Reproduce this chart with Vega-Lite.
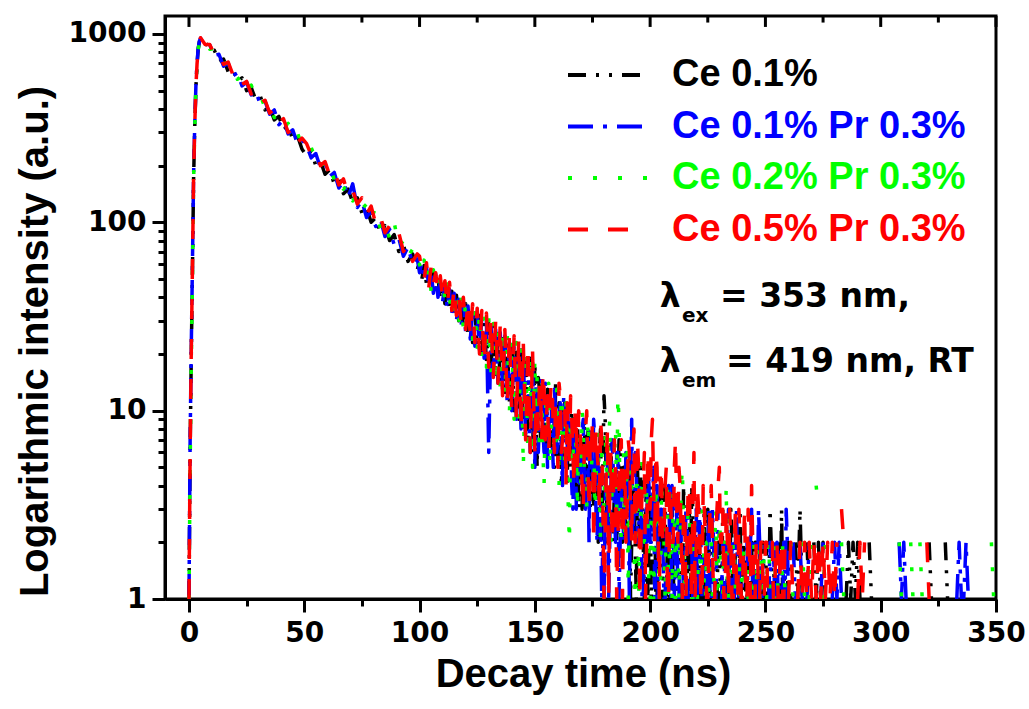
{
"$schema": "https://vega.github.io/schema/vega-lite/v6.json",
"background": "white",
"autosize": {"type": "none"},
"padding": {"left": 165, "top": 16, "right": 33, "bottom": 110},
"width": 831,
"height": 583,
"config": {
 "view": {"stroke": "black", "strokeWidth": 3},
 "axis": {"domainColor": "black", "domainWidth": 3, "tickColor": "black", "tickWidth": 3, "labelColor": "black", "titleColor": "black", "grid": false, "labelFont": "DejaVu Sans", "labelFontWeight": "bold", "labelFontSize": 28, "titleFont": "Liberation Sans", "titleFontWeight": "bold", "titleFontSize": 40}
},
"resolve": {"axis": {"x": "independent", "y": "independent"}},
"layer": [
{
 "data": {"values": [
{"t":0,"a":1,"b":1,"c":1,"d":1},
{"t":0.5,"a":6,"b":7,"c":5,"d":6},
{"t":1,"a":20,"b":22,"c":18,"d":21},
{"t":1.5,"a":55,"b":60,"c":50,"d":58},
{"t":2,"a":170,"b":180,"c":165,"d":175},
{"t":2.5,"a":320,"b":330,"c":310,"d":325},
{"t":3,"a":520,"b":530,"c":510,"d":525},
{"t":3.5,"a":690,"b":700,"c":680,"d":695},
{"t":4,"a":830,"b":840,"c":825,"d":835},
{"t":4.5,"a":910,"b":915,"c":905,"d":920},
{"t":5,"a":940,"b":950,"c":945,"d":955},
{"t":7,"a":920,"b":870,"c":925,"d":880},
{"t":9,"a":810,"b":875,"c":830,"d":880},
{"t":11,"a":820,"b":770,"c":835,"d":775},
{"t":13,"a":715,"b":780,"c":735,"d":790},
{"t":15,"a":735,"b":675,"c":745,"d":690},
{"t":17,"a":630,"b":700,"c":650,"d":710},
{"t":19,"a":655,"b":600,"c":665,"d":610},
{"t":21,"a":560,"b":620,"c":575,"d":630},
{"t":23,"a":585,"b":530,"c":595,"d":540},
{"t":25,"a":500,"b":555,"c":510,"d":560},
{"t":27,"a":520,"b":475,"c":535,"d":480},
{"t":29,"a":445,"b":495,"c":455,"d":500},
{"t":31,"a":465,"b":420,"c":470,"d":430},
{"t":33,"a":395,"b":440,"c":405,"d":445},
{"t":35,"a":410,"b":375,"c":420,"d":380},
{"t":37,"a":350,"b":395,"c":360,"d":400},
{"t":39,"a":365,"b":330,"c":375,"d":340},
{"t":41,"a":310,"b":350,"c":320,"d":355},
{"t":43,"a":325,"b":295,"c":335,"d":300},
{"t":45,"a":275,"b":310,"c":285,"d":315},
{"t":47,"a":290,"b":262,"c":300,"d":265},
{"t":49,"a":245,"b":275,"c":255,"d":280},
{"t":51,"a":225,"b":255,"c":240,"d":262},
{"t":53,"a":240,"b":220,"c":250,"d":228},
{"t":55,"a":200,"b":232,"c":215,"d":236},
{"t":57,"a":212,"b":195,"c":225,"d":200},
{"t":59,"a":180,"b":205,"c":190,"d":210},
{"t":61,"a":190,"b":175,"c":200,"d":178},
{"t":63,"a":160,"b":184,"c":168,"d":190},
{"t":65,"a":170,"b":152,"c":178,"d":158},
{"t":67,"a":142,"b":165,"c":150,"d":170},
{"t":69,"a":150,"b":136,"c":160,"d":140},
{"t":71,"a":128,"b":160,"c":130,"d":148},
{"t":73,"a":135,"b":120,"c":140,"d":125},
{"t":75,"a":112,"b":130,"c":118,"d":135},
{"t":77,"a":120,"b":106,"c":125,"d":110},
{"t":79,"a":100,"b":116,"c":104,"d":122},
{"t":81,"a":106,"b":95,"c":120,"d":98},
{"t":83,"a":88,"b":104,"c":92,"d":108},
{"t":85,"a":96,"b":84,"c":100,"d":88},
{"t":87,"a":80,"b":92,"c":82,"d":96},
{"t":89,"a":86,"b":76,"c":100,"d":84},
{"t":91,"a":70,"b":82,"c":74,"d":88},
{"t":93,"a":76,"b":66,"c":80,"d":70},
{"t":95,"a":62,"b":74,"c":66,"d":76},
{"t":97,"a":68,"b":60,"c":72,"d":62},
{"t":99,"a":56,"b":64,"c":58,"d":68},
{"t":100,"a":62,"b":54,"c":60,"d":66},
{"t":101,"a":50,"b":61,"c":53,"d":56},
{"t":102,"a":59,"b":49,"c":63,"d":50},
{"t":103,"a":47,"b":58,"c":50,"d":61},
{"t":104,"a":55,"b":46,"c":57,"d":45},
{"t":105,"a":48,"b":55,"c":43,"d":58},
{"t":106,"a":54,"b":42,"c":56,"d":47},
{"t":107,"a":41,"b":53,"c":46,"d":54},
{"t":108,"a":51,"b":40,"c":50,"d":43},
{"t":109,"a":39,"b":49,"c":41,"d":52},
{"t":110,"a":48,"b":38,"c":51,"d":39},
{"t":111,"a":37,"b":47,"c":38,"d":49},
{"t":112,"a":46,"b":35,"c":47,"d":36},
{"t":113,"a":34,"b":44,"c":36,"d":48},
{"t":114,"a":43,"b":33,"c":44,"d":34},
{"t":115,"a":32,"b":42,"c":31,"d":45},
{"t":116,"a":41,"b":30,"c":42,"d":32},
{"t":117,"a":30,"b":39,"c":29,"d":41},
{"t":118,"a":38,"b":28,"c":40,"d":29},
{"t":119,"a":28,"b":38,"c":27,"d":40},
{"t":120,"a":37,"b":26,"c":38,"d":27},
{"t":121,"a":25,"b":36,"c":26,"d":38},
{"t":122,"a":35,"b":24,"c":36,"d":25},
{"t":123,"a":23,"b":34,"c":24,"d":37},
{"t":124,"a":33,"b":22,"c":35,"d":23},
{"t":125,"a":22,"b":33,"c":21,"d":35},
{"t":126,"a":32,"b":21,"c":33,"d":20},
{"t":127,"a":20,"b":31,"c":19,"d":34},
{"t":128,"a":31,"b":19,"c":32,"d":18},
{"t":129,"a":18,"b":30,"c":17,"d":33},
{"t":130,"a":29,"b":6,"c":31,"d":17},
{"t":131,"a":17,"b":28,"c":16,"d":31},
{"t":132,"a":28,"b":16,"c":29,"d":15},
{"t":133,"a":15,"b":27,"c":14,"d":30},
{"t":134,"a":27,"b":14,"c":28,"d":14},
{"t":135,"a":14,"b":26,"c":13,"d":29},
{"t":136,"a":25,"b":13,"c":27,"d":12},
{"t":137,"a":12,"b":25,"c":12,"d":27},
{"t":138,"a":24,"b":11,"c":26,"d":11},
{"t":139,"a":11,"b":23,"c":10,"d":26},
{"t":140,"a":23,"b":10,"c":24,"d":10},
{"t":141,"a":10,"b":22,"c":9,"d":25},
{"t":142,"a":22,"b":9,"c":23,"d":9},
{"t":143,"a":9,"b":21,"c":8,"d":24},
{"t":144,"a":21,"b":8,"c":22,"d":8},
{"t":145,"a":8,"b":20,"c":5,"d":23},
{"t":146,"a":20,"b":7,"c":21,"d":7},
{"t":147,"a":7,"b":19,"c":6,"d":22},
{"t":148,"a":19,"b":6,"c":20,"d":6},
{"t":149,"a":6,"b":18,"c":5,"d":21},
{"t":150,"a":18,"b":5,"c":19,"d":6},
{"t":150.5,"a":9,"b":14,"c":7,"d":11},
{"t":151,"a":5,"b":12,"c":16,"d":10},
{"t":151.5,"a":15,"b":6,"c":12,"d":8},
{"t":152,"a":13,"b":9,"c":6,"d":14},
{"t":152.5,"a":7,"b":11,"c":15,"d":12},
{"t":153,"a":8,"b":15,"c":12,"d":7},
{"t":153.5,"a":12,"b":8,"c":6,"d":16},
{"t":154,"a":12,"b":6,"c":4,"d":13},
{"t":154.5,"a":6,"b":14,"c":10,"d":7},
{"t":155,"a":7,"b":13,"c":11,"d":9},
{"t":155.5,"a":13,"b":5,"c":8,"d":12},
{"t":156,"a":11,"b":8,"c":14,"d":6},
{"t":156.5,"a":8,"b":11,"c":5,"d":9},
{"t":157,"a":6,"b":12,"c":7,"d":14},
{"t":157.5,"a":12,"b":7,"c":11,"d":13},
{"t":158,"a":10,"b":5,"c":12,"d":8},
{"t":158.5,"a":5,"b":13,"c":9,"d":6},
{"t":159,"a":14,"b":10,"c":6,"d":11},
{"t":159.5,"a":9,"b":6,"c":13,"d":10},
{"t":160,"a":5,"b":7,"c":11,"d":5},
{"t":160.5,"a":11,"b":9,"c":4,"d":14},
{"t":161,"a":9,"b":11,"c":8,"d":12},
{"t":161.5,"a":4,"b":6,"c":12,"d":6},
{"t":162,"a":6,"b":4,"c":10,"d":7},
{"t":162.5,"a":10,"b":12,"c":7,"d":9},
{"t":163,"a":11,"b":9,"c":5,"d":10},
{"t":163.5,"a":7,"b":5,"c":11,"d":4},
{"t":164,"a":4,"b":6,"c":9,"d":11},
{"t":164.5,"a":9,"b":11,"c":3,"d":8},
{"t":165,"a":8,"b":10,"c":2,"d":5},
{"t":165.5,"a":5,"b":7,"c":9,"d":12},
{"t":166,"a":10,"b":4,"c":7,"d":9},
{"t":166.5,"a":8,"b":3,"c":5,"d":6},
{"t":167,"a":5,"b":8,"c":10,"d":4},
{"t":167.5,"a":4,"b":9,"c":8,"d":10},
{"t":168,"a":9,"b":3,"c":6,"d":8},
{"t":168.5,"a":10,"b":6,"c":3,"d":5},
{"t":169,"a":3,"b":7,"c":9,"d":10},
{"t":169.5,"a":6,"b":4,"c":7,"d":9},
{"t":170,"a":7,"b":5,"c":4,"d":6},
{"t":170.5,"a":3,"b":8,"c":10,"d":4},
{"t":171,"a":6,"b":9,"c":8,"d":3},
{"t":171.5,"a":9,"b":4,"c":5,"d":7},
{"t":172,"a":4,"b":3,"c":5,"d":8},
{"t":172.5,"a":5,"b":7,"c":3,"d":10},
{"t":173,"a":8,"b":6,"c":9,"d":5},
{"t":173.5,"a":4,"b":2,"c":7,"d":3},
{"t":174,"a":3,"b":8,"c":4,"d":7},
{"t":174.5,"a":8,"b":6,"c":5,"d":6},
{"t":175,"a":7,"b":4,"c":6,"d":9},
{"t":175.5,"a":3,"b":9,"c":8,"d":2},
{"t":176,"a":5,"b":7,"c":3,"d":4},
{"t":176.5,"a":6,"b":3,"c":4,"d":8},
{"t":177,"a":4,"b":2,"c":8,"d":6},
{"t":177.5,"a":2,"b":6,"c":7,"d":5},
{"t":178,"a":6,"b":5,"c":4,"d":3},
{"t":178.5,"a":8,"b":3,"c":2,"d":9},
{"t":179,"a":2,"b":1,"c":6,"d":7},
{"t":179.5,"a":5,"b":2,"c":4,"d":3},
{"t":180,"a":12,"b":1,"c":3,"d":1},
{"t":180.5,"a":9,"b":3,"c":8,"d":2},
{"t":181,"a":4,"b":6,"c":5,"d":5},
{"t":181.5,"a":2,"b":5,"c":3,"d":8},
{"t":182,"a":3,"b":1,"c":7,"d":1},
{"t":182.5,"a":6,"b":2,"c":9,"d":4},
{"t":183,"a":7,"b":4,"c":2,"d":6},
{"t":183.5,"a":3,"b":7,"c":4,"d":2},
{"t":184,"a":2,"b":5,"c":4,"d":3},
{"t":184.5,"a":4,"b":3,"c":6,"d":7},
{"t":185,"a":5,"b":2,"c":8,"d":5},
{"t":185.5,"a":2,"b":6,"c":3,"d":1},
{"t":186,"a":3,"b":6,"c":12,"d":2},
{"t":186.5,"a":7,"b":1,"c":9,"d":4},
{"t":187,"a":6,"b":2,"c":3,"d":6},
{"t":187.5,"a":3,"b":4,"c":2,"d":7},
{"t":188,"a":2,"b":4,"c":5,"d":1},
{"t":188.5,"a":5,"b":2,"c":6,"d":3},
{"t":189,"a":4,"b":3,"c":2,"d":5},
{"t":189.5,"a":2,"b":6,"c":3,"d":2},
{"t":190,"a":3,"b":5,"c":6,"d":3},
{"t":190.5,"a":6,"b":3,"c":1,"d":7},
{"t":191,"a":5,"b":1,"c":3,"d":6},
{"t":191.5,"a":1,"b":4,"c":5,"d":3},
{"t":192,"a":2,"b":9,"c":4,"d":2},
{"t":192.5,"a":4,"b":2,"c":3,"d":6},
{"t":193,"a":4,"b":3,"c":2,"d":8},
{"t":193.5,"a":2,"b":6,"c":1,"d":2},
{"t":194,"a":1,"b":5,"c":4,"d":3},
{"t":194.5,"a":5,"b":2,"c":4,"d":7},
{"t":195,"a":3,"b":2,"c":1,"d":5},
{"t":195.5,"a":2,"b":4,"c":2,"d":1},
{"t":196,"a":5,"b":4,"c":3,"d":2},
{"t":196.5,"a":3,"b":1,"c":6,"d":4},
{"t":197,"a":2,"b":1,"c":5,"d":4},
{"t":197.5,"a":1,"b":3,"c":2,"d":6},
{"t":198,"a":3,"b":3,"c":2,"d":1},
{"t":198.5,"a":4,"b":2,"c":4,"d":2},
{"t":199,"a":1,"b":5,"c":3,"d":6},
{"t":199.5,"a":2,"b":4,"c":1,"d":4},
{"t":200,"a":4,"b":2,"c":1,"d":3},
{"t":200.5,"a":1,"b":2,"c":3,"d":7},
{"t":201,"a":2,"b":3,"c":4,"d":9},
{"t":201.5,"a":3,"b":5,"c":1,"d":4},
{"t":202,"a":3,"b":1,"c":2,"d":2},
{"t":202.5,"a":1,"b":2,"c":4,"d":6},
{"t":203,"a":1,"b":4,"c":3,"d":5},
{"t":203.5,"a":2,"b":1,"c":2,"d":2},
{"t":204,"a":3,"b":2,"c":1,"d":1},
{"t":204.5,"a":4,"b":3,"c":1,"d":5},
{"t":205,"a":2,"b":3,"c":4,"d":4},
{"t":205.5,"a":1,"b":2,"c":3,"d":2},
{"t":206,"a":4,"b":1,"c":2,"d":2},
{"t":206.5,"a":3,"b":1,"c":1,"d":4},
{"t":207,"a":1,"b":2,"c":3,"d":5},
{"t":207.5,"a":2,"b":3,"c":4,"d":1},
{"t":208,"a":2,"b":4,"c":1,"d":1},
{"t":208.5,"a":1,"b":2,"c":2,"d":4},
{"t":209,"a":3,"b":1,"c":2,"d":3},
{"t":209.5,"a":3,"b":4,"c":1,"d":2},
{"t":210,"a":1,"b":3,"c":4,"d":2},
{"t":210.5,"a":2,"b":1,"c":3,"d":5},
{"t":211,"a":2,"b":2,"c":1,"d":7},
{"t":211.5,"a":1,"b":3,"c":2,"d":3},
{"t":212,"a":null,"b":1,"c":3,"d":2},
{"t":212.5,"a":2,"b":1,"c":1,"d":5},
{"t":213,"a":3,"b":3,"c":2,"d":4},
{"t":213.5,"a":1,"b":2,"c":4,"d":2},
{"t":214,"a":1,"b":2,"c":5,"d":1},
{"t":214.5,"a":4,"b":1,"c":2,"d":3},
{"t":215,"a":2,"b":1,"c":1,"d":3},
{"t":215.5,"a":1,"b":3,"c":1,"d":1},
{"t":216,"a":1,"b":3,"c":2,"d":2},
{"t":216.5,"a":2,"b":1,"c":3,"d":4},
{"t":217,"a":3,"b":null,"c":3,"d":4},
{"t":217.5,"a":1,"b":2,"c":2,"d":2},
{"t":218,"a":4,"b":2,"c":1,"d":1},
{"t":218.5,"a":3,"b":1,"c":1,"d":3},
{"t":219,"a":1,"b":1,"c":2,"d":6},
{"t":219.5,"a":2,"b":2,"c":3,"d":1},
{"t":220,"a":2,"b":3,"c":null,"d":2},
{"t":220.5,"a":1,"b":1,"c":1,"d":4},
{"t":221,"a":1,"b":1,"c":2,"d":3},
{"t":221.5,"a":2,"b":3,"c":2,"d":2},
{"t":222,"a":null,"b":2,"c":1,"d":1},
{"t":222.5,"a":1,"b":1,"c":3,"d":1},
{"t":223,"a":2,"b":1,"c":3,"d":4},
{"t":223.5,"a":3,"b":2,"c":1,"d":3},
{"t":224,"a":1,"b":null,"c":1,"d":2},
{"t":224.5,"a":1,"b":1,"c":2,"d":1},
{"t":225,"a":3,"b":2,"c":2,"d":1},
{"t":225.5,"a":2,"b":3,"c":1,"d":2},
{"t":226,"a":1,"b":1,"c":null,"d":3},
{"t":226.5,"a":1,"b":1,"c":2,"d":4},
{"t":227,"a":2,"b":3,"c":1,"d":2},
{"t":227.5,"a":2,"b":2,"c":1,"d":1},
{"t":228,"a":null,"b":1,"c":2,"d":1},
{"t":228.5,"a":1,"b":1,"c":3,"d":2},
{"t":229,"a":1,"b":2,"c":1,"d":3},
{"t":229.5,"a":2,"b":3,"c":1,"d":4},
{"t":230,"a":2,"b":null,"c":3,"d":5},
{"t":230.5,"a":1,"b":1,"c":2,"d":2},
{"t":231,"a":1,"b":1,"c":1,"d":2},
{"t":231.5,"a":3,"b":2,"c":1,"d":3},
{"t":232,"a":null,"b":2,"c":2,"d":1},
{"t":232.5,"a":1,"b":1,"c":2,"d":1},
{"t":233,"a":2,"b":1,"c":4,"d":3},
{"t":233.5,"a":2,"b":2,"c":1,"d":2},
{"t":234,"a":1,"b":3,"c":1,"d":1},
{"t":234.5,"a":1,"b":1,"c":3,"d":3},
{"t":235,"a":3,"b":1,"c":null,"d":2},
{"t":235.5,"a":2,"b":2,"c":1,"d":1},
{"t":236,"a":1,"b":null,"c":2,"d":1},
{"t":236.5,"a":1,"b":1,"c":2,"d":2},
{"t":237,"a":2,"b":2,"c":1,"d":3},
{"t":237.5,"a":2,"b":3,"c":1,"d":1},
{"t":238,"a":null,"b":1,"c":null,"d":1},
{"t":238.5,"a":1,"b":1,"c":2,"d":3},
{"t":239,"a":3,"b":2,"c":1,"d":2},
{"t":239.5,"a":1,"b":2,"c":1,"d":1},
{"t":240,"a":1,"b":1,"c":2,"d":1},
{"t":240.5,"a":2,"b":1,"c":2,"d":2},
{"t":241,"a":2,"b":null,"c":1,"d":3},
{"t":241.5,"a":1,"b":2,"c":1,"d":1},
{"t":242,"a":1,"b":2,"c":null,"d":1},
{"t":242.5,"a":2,"b":1,"c":1,"d":3},
{"t":243,"a":null,"b":1,"c":2,"d":2},
{"t":243.5,"a":1,"b":2,"c":2,"d":1},
{"t":244,"a":2,"b":3,"c":1,"d":4},
{"t":244.5,"a":1,"b":1,"c":1,"d":2},
{"t":245,"a":1,"b":1,"c":2,"d":1},
{"t":245.5,"a":2,"b":2,"c":1,"d":1},
{"t":246,"a":2,"b":null,"c":1,"d":2},
{"t":246.5,"a":1,"b":1,"c":2,"d":2},
{"t":247,"a":null,"b":3,"c":null,"d":1},
{"t":247.5,"a":2,"b":2,"c":1,"d":1},
{"t":248,"a":1,"b":1,"c":2,"d":2},
{"t":248.5,"a":1,"b":1,"c":1,"d":2},
{"t":249,"a":2,"b":2,"c":1,"d":1},
{"t":249.5,"a":1,"b":2,"c":2,"d":1},
{"t":250,"a":1,"b":null,"c":null,"d":2},
{"t":250.5,"a":2,"b":1,"c":1,"d":2},
{"t":251,"a":null,"b":1,"c":2,"d":1},
{"t":251.5,"a":1,"b":1,"c":2,"d":1},
{"t":252,"a":3,"b":2,"c":1,"d":null},
{"t":252.5,"a":2,"b":1,"c":1,"d":2},
{"t":253,"a":1,"b":null,"c":null,"d":2},
{"t":253.5,"a":1,"b":2,"c":1,"d":1},
{"t":254,"a":2,"b":1,"c":1,"d":1},
{"t":254.5,"a":1,"b":1,"c":2,"d":2},
{"t":255,"a":null,"b":2,"c":2,"d":2},
{"t":255.5,"a":2,"b":1,"c":1,"d":1},
{"t":256,"a":1,"b":1,"c":null,"d":1},
{"t":256.5,"a":1,"b":2,"c":1,"d":2},
{"t":257,"a":3,"b":null,"c":1,"d":2},
{"t":257.5,"a":1,"b":1,"c":2,"d":1},
{"t":258,"a":1,"b":2,"c":2,"d":1},
{"t":258.5,"a":2,"b":1,"c":1,"d":2},
{"t":259,"a":null,"b":3,"c":1,"d":null},
{"t":259.5,"a":1,"b":2,"c":1,"d":1},
{"t":260,"a":2,"b":1,"c":null,"d":1},
{"t":261,"a":1,"b":null,"c":2,"d":2},
{"t":262,"a":null,"b":2,"c":1,"d":1},
{"t":263,"a":2,"b":1,"c":null,"d":null},
{"t":264,"a":1,"b":null,"c":1,"d":1},
{"t":265,"a":3,"b":2,"c":null,"d":2},
{"t":266,"a":1,"b":1,"c":2,"d":1},
{"t":267,"a":null,"b":null,"c":1,"d":2},
{"t":268,"a":2,"b":1,"c":null,"d":1},
{"t":269,"a":1,"b":2,"c":1,"d":2},
{"t":270,"a":null,"b":null,"c":2,"d":1},
{"t":271,"a":2,"b":1,"c":null,"d":2},
{"t":272,"a":1,"b":null,"c":4,"d":1},
{"t":273,"a":2,"b":null,"c":3,"d":2},
{"t":274,"a":1,"b":1,"c":null,"d":1},
{"t":275,"a":2,"b":2,"c":1,"d":2},
{"t":276,"a":1,"b":null,"c":2,"d":1},
{"t":277,"a":null,"b":1,"c":null,"d":2},
{"t":278,"a":1,"b":null,"c":1,"d":1},
{"t":279,"a":null,"b":1,"c":null,"d":2},
{"t":280,"a":1,"b":2,"c":null,"d":1},
{"t":281,"a":null,"b":1,"c":1,"d":2},
{"t":282,"a":1,"b":2,"c":null,"d":null},
{"t":283,"a":null,"b":1,"c":2,"d":3},
{"t":284,"a":null,"b":null,"c":1,"d":2},
{"t":285,"a":1,"b":null,"c":null,"d":null},
{"t":286,"a":2,"b":null,"c":null,"d":null},
{"t":287,"a":1,"b":null,"c":null,"d":null},
{"t":288,"a":2,"b":null,"c":null,"d":null},
{"t":289,"a":1,"b":null,"c":null,"d":null},
{"t":290,"a":2,"b":null,"c":null,"d":1},
{"t":291,"a":1,"b":null,"c":null,"d":2},
{"t":292,"a":null,"b":null,"c":null,"d":1},
{"t":293,"a":null,"b":null,"c":null,"d":2},
{"t":294,"a":null,"b":null,"c":null,"d":null},
{"t":295,"a":2,"b":null,"c":null,"d":null},
{"t":296,"a":1,"b":null,"c":null,"d":null},
{"t":297,"a":null,"b":null,"c":null,"d":null},
{"t":308,"a":null,"b":2,"c":2,"d":null},
{"t":309,"a":null,"b":1,"c":1,"d":null},
{"t":310,"a":null,"b":2,"c":null,"d":null},
{"t":311,"a":null,"b":1,"c":null,"d":null},
{"t":312,"a":null,"b":null,"c":null,"d":null},
{"t":313,"a":null,"b":null,"c":2,"d":null},
{"t":314,"a":null,"b":null,"c":1,"d":null},
{"t":315,"a":null,"b":null,"c":null,"d":null},
{"t":317,"a":null,"b":null,"c":2,"d":null},
{"t":318,"a":null,"b":null,"c":1,"d":null},
{"t":319,"a":null,"b":null,"c":null,"d":null},
{"t":320,"a":null,"b":null,"c":null,"d":2},
{"t":321,"a":2,"b":null,"c":null,"d":1},
{"t":322,"a":1,"b":null,"c":null,"d":null},
{"t":323,"a":null,"b":null,"c":null,"d":null},
{"t":328,"a":2,"b":null,"c":null,"d":null},
{"t":329,"a":1,"b":null,"c":null,"d":null},
{"t":330,"a":null,"b":null,"c":null,"d":null},
{"t":333,"a":null,"b":1,"c":null,"d":null},
{"t":334,"a":null,"b":2,"c":null,"d":null},
{"t":335,"a":null,"b":1,"c":null,"d":null},
{"t":336,"a":null,"b":1,"c":null,"d":null},
{"t":337,"a":null,"b":2,"c":null,"d":null},
{"t":338,"a":null,"b":1,"c":null,"d":null},
{"t":339,"a":null,"b":null,"c":null,"d":null},
{"t":348,"a":null,"b":null,"c":2,"d":null},
{"t":349,"a":null,"b":null,"c":1,"d":null},
{"t":350,"a":null,"b":null,"c":null,"d":null}
 ]},
 "transform": [{"fold": ["a", "b", "c", "d"], "as": ["s", "v"]}],
 "mark": {"type": "line", "strokeWidth": 3.5, "strokeJoin": "round", "clip": true, "invalid": "break-paths-filter-domains"},
 "encoding": {
  "x": {"field": "t", "type": "quantitative", "scale": {"domain": [-10.4, 350], "nice": false, "zero": false},
   "axis": {"orient": "bottom", "values": [0,25,50,75,100,125,150,175,200,225,250,275,300,325,350], "format": "d",
    "labelExpr": "datum.value % 50 == 0 ? datum.label : ''",
    "tickSize": {"condition": {"test": "datum.value % 50 == 0", "value": 13}, "value": 7},
    "labelPadding": 7, "labelFlush": false, "labelOverlap": false,
    "title": "Decay time (ns)", "titleX": 418, "titleY": 87, "titleAlign": "center", "titleBaseline": "alphabetic"}},
  "y": {"field": "v", "type": "quantitative", "scale": {"type": "log", "domain": [1, 1246], "nice": false},
   "axis": {"orient": "left", "values": [1,2,3,4,5,6,7,8,9,10,20,30,40,50,60,70,80,90,100,200,300,400,500,600,700,800,900,1000], "format": "d",
    "labelExpr": "datum.value == 1 || datum.value == 10 || datum.value == 100 || datum.value == 1000 ? datum.label : ''",
    "tickSize": {"condition": {"test": "datum.value == 1 || datum.value == 10 || datum.value == 100 || datum.value == 1000", "value": 13}, "value": 7},
    "labelPadding": 6, "labelFlush": false, "labelOverlap": false,
    "title": "Logarithmic intensity (a.u.)", "titleX": -118, "titleY": 325, "titleAngle": -90, "titleAlign": "center", "titleBaseline": "alphabetic"}},
  "color": {"field": "s", "type": "nominal",
   "scale": {"domain": ["a", "b", "c", "d"], "range": ["#000000", "#0000FF", "#00FF00", "#FF0000"]},
   "legend": {"orient": "none", "legendX": 424, "legendY": 40, "title": null, "padding": 0,
    "labelFont": "Liberation Sans", "labelFontWeight": "bold", "labelFontSize": 38, "labelOffset": 45, "labelLimit": 600,
    "rowPadding": 13.5, "symbolType": "M-4,0H4", "symbolSize": 400, "symbolStrokeWidth": 4,
    "labelExpr": "datum.label == 'a' ? 'Ce 0.1%' : datum.label == 'b' ? 'Ce 0.1% Pr 0.3%' : datum.label == 'c' ? 'Ce 0.2% Pr 0.3%' : 'Ce 0.5% Pr 0.3%'",
    "encode": {"labels": {"update": {"fill": {"scale": "color", "field": "value"}}}}}},
  "strokeDash": {"field": "s", "type": "nominal",
   "scale": {"domain": ["a", "b", "c", "d"], "range": [[18,10,3,10,3,10], [25,10,4,10], [4,21], [20,20]]},
   "legend": {"orient": "none", "legendX": 424, "legendY": 40, "title": null, "padding": 0,
    "labelFont": "Liberation Sans", "labelFontWeight": "bold", "labelFontSize": 38, "labelOffset": 45, "labelLimit": 600,
    "rowPadding": 13.5, "symbolType": "M-4,0H4", "symbolSize": 400, "symbolStrokeWidth": 4,
    "labelExpr": "datum.label == 'a' ? 'Ce 0.1%' : datum.label == 'b' ? 'Ce 0.1% Pr 0.3%' : datum.label == 'c' ? 'Ce 0.2% Pr 0.3%' : 'Ce 0.5% Pr 0.3%'",
    "encode": {"labels": {"update": {"fill": {"scale": "color", "field": "value"}}}}}}
 }
},
{
 "data": {"values": [{"t": 0}, {"t": 50}, {"t": 100}, {"t": 150}, {"t": 200}, {"t": 250}, {"t": 300}, {"t": 350}]},
 "mark": {"type": "rule", "strokeWidth": 3, "color": "black"},
 "encoding": {
  "x": {"field": "t", "type": "quantitative", "axis": null},
  "y": {"datum": 1246, "type": "quantitative", "axis": null},
  "y2": {"datum": 1090}
 }
},
{
 "data": {"values": [{"t": 25}, {"t": 75}, {"t": 125}, {"t": 175}, {"t": 225}, {"t": 275}, {"t": 325}]},
 "mark": {"type": "rule", "strokeWidth": 3, "color": "black"},
 "encoding": {
  "x": {"field": "t", "type": "quantitative", "axis": null},
  "y": {"datum": 1246, "type": "quantitative", "axis": null},
  "y2": {"datum": 1150}
 }
},
{
 "data": {"values": [{}]},
 "mark": {"type": "text", "align": "left", "baseline": "alphabetic", "font": "DejaVu Sans", "fontWeight": "bold", "fontSize": 33, "color": "black"},
 "encoding": {
  "x": {"datum": 204.2, "type": "quantitative", "axis": null},
  "y": {"datum": 35.5, "type": "quantitative", "axis": null},
  "text": {"value": "λ"}
 }
},
{
 "data": {"values": [{}]},
 "mark": {"type": "text", "align": "left", "baseline": "alphabetic", "font": "DejaVu Sans", "fontWeight": "bold", "fontSize": 20, "color": "black"},
 "encoding": {
  "x": {"datum": 213.8, "type": "quantitative", "axis": null},
  "y": {"datum": 29.6, "type": "quantitative", "axis": null},
  "text": {"value": "ex"}
 }
},
{
 "data": {"values": [{}]},
 "mark": {"type": "text", "align": "left", "baseline": "alphabetic", "font": "DejaVu Sans", "fontWeight": "bold", "fontSize": 33, "color": "black"},
 "encoding": {
  "x": {"datum": 230.3, "type": "quantitative", "axis": null},
  "y": {"datum": 35.5, "type": "quantitative", "axis": null},
  "text": {"value": "= 353 nm,"}
 }
},
{
 "data": {"values": [{}]},
 "mark": {"type": "text", "align": "left", "baseline": "alphabetic", "font": "DejaVu Sans", "fontWeight": "bold", "fontSize": 33, "color": "black"},
 "encoding": {
  "x": {"datum": 204.2, "type": "quantitative", "axis": null},
  "y": {"datum": 16.05, "type": "quantitative", "axis": null},
  "text": {"value": "λ"}
 }
},
{
 "data": {"values": [{}]},
 "mark": {"type": "text", "align": "left", "baseline": "alphabetic", "font": "DejaVu Sans", "fontWeight": "bold", "fontSize": 20, "color": "black"},
 "encoding": {
  "x": {"datum": 213.8, "type": "quantitative", "axis": null},
  "y": {"datum": 13.36, "type": "quantitative", "axis": null},
  "text": {"value": "em"}
 }
},
{
 "data": {"values": [{}]},
 "mark": {"type": "text", "align": "left", "baseline": "alphabetic", "font": "DejaVu Sans", "fontWeight": "bold", "fontSize": 33, "color": "black"},
 "encoding": {
  "x": {"datum": 232.9, "type": "quantitative", "axis": null},
  "y": {"datum": 16.05, "type": "quantitative", "axis": null},
  "text": {"value": "= 419 nm, RT"}
 }
}
]
}
